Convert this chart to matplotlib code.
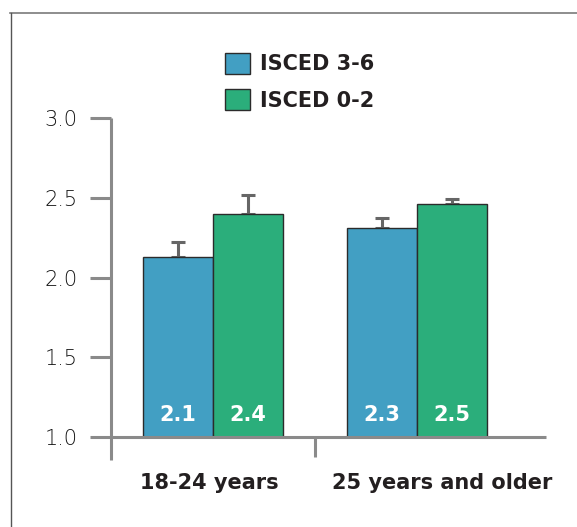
import matplotlib
matplotlib.use("Agg")
import matplotlib.pyplot as plt
from matplotlib.lines import Line2D
import numpy as np

categories = ["18-24 years", "25 years and older"]
series_names = ["ISCED 3-6", "ISCED 0-2"]
isced36 = [2.13, 2.31]
isced02 = [2.40, 2.46]
isced36_err_up = [0.09, 0.06]
isced02_err_up = [0.12, 0.03]
bar_labels_36 = ["2.1", "2.3"]
bar_labels_02 = ["2.4", "2.5"]
yticks = [1.0, 1.5, 2.0, 2.5, 3.0]
ytick_labels = ["1.0", "1.5", "2.0", "2.5", "3.0"]

BLUE = "#429fc3"
GREEN = "#2bae7b"
AXIS = "#8a8a8a"
TEXT = "#231f20"
BOLD_FONT = "DejaVu Sans"
LIGHT_FONT = "DejaVu Sans"

W, H = 577, 527
fig = plt.figure(figsize=(W / 100, H / 100), dpi=100)
fig.patch.set_facecolor("white")

x0, x1 = 111, 546
y_top, y_bot = 118, 437
ax = fig.add_axes([x0 / W, (H - y_bot) / H, (x1 - x0) / W, (y_bot - y_top) / H])

x = np.arange(len(categories))
w = 0.343
ax.set_xlim(-0.5, 1.632)
ax.set_ylim(1.0, 3.0)

b1 = ax.bar(x - w / 2, np.array(isced36) - 1.0, w, bottom=1.0, color=BLUE,
            edgecolor="#2b2b2b", linewidth=1.0, label=series_names[0], zorder=3)
b2 = ax.bar(x + w / 2, np.array(isced02) - 1.0, w, bottom=1.0, color=GREEN,
            edgecolor="#2b2b2b", linewidth=1.0, label=series_names[1], zorder=3)

ax.errorbar(x - w / 2, isced36, yerr=[np.zeros(2), isced36_err_up], fmt="none",
            ecolor="#666666", elinewidth=2.2, capsize=5, capthick=2.2, zorder=2)
ax.errorbar(x + w / 2, isced02, yerr=[np.zeros(2), isced02_err_up], fmt="none",
            ecolor="#666666", elinewidth=2.2, capsize=5, capthick=2.2, zorder=2)

for xi, lab in zip(x - w / 2, bar_labels_36):
    ax.annotate(lab, (xi, 1.0), xytext=(0, 15.5), textcoords="offset points",
                ha="center", va="center", color="white", fontsize=15,
                fontweight="bold", family=BOLD_FONT, zorder=5)
for xi, lab in zip(x + w / 2, bar_labels_02):
    ax.annotate(lab, (xi, 1.0), xytext=(0, 15.5), textcoords="offset points",
                ha="center", va="center", color="white", fontsize=15,
                fontweight="bold", family=BOLD_FONT, zorder=5)

for s in ax.spines.values():
    s.set_visible(False)

ax.set_yticks(yticks)
ax.set_yticklabels(ytick_labels, family=LIGHT_FONT, fontweight="light", fontsize=15, color="#151515")
ax.tick_params(axis="y", length=15, width=2.2, color=AXIS, pad=9)
ax.set_xticks([])

ax.plot([-0.5, -0.5], [0.856, 3.0], color=AXIS, lw=2.2, clip_on=False, zorder=1,
        solid_capstyle="butt")
ax.plot([-0.5, 1.632], [1.0, 1.0], color=AXIS, lw=2.2, clip_on=False, zorder=4,
        solid_capstyle="butt")
ax.plot([0.5, 0.5], [0.875, 1.0], color=AXIS, lw=2.2, clip_on=False, zorder=1,
        solid_capstyle="butt")

cat_offsets = [-0.017, 0.125]
for xi, c, off in zip(x, categories, cat_offsets):
    ax.text(xi + off, 1.0 - 46 / 159.5, c, ha="center", va="center",
            fontsize=15, fontweight="bold", family=BOLD_FONT, color=TEXT)

leg = fig.legend(handles=[b1, b2], labels=series_names, loc="upper left",
                 bbox_to_anchor=(225 / W, 1 - 53 / H), frameon=False,
                 prop={"family": BOLD_FONT, "weight": "bold", "size": 15},
                 handlelength=1.2, handleheight=1.15, handletextpad=0.48,
                 labelspacing=0.72, borderpad=0, borderaxespad=0)
for t in leg.get_texts():
    t.set_color(TEXT)

fig.add_artist(Line2D([10 / W, 1.0], [1 - 13 / H, 1 - 13 / H], color="#7a7a7a", lw=1.2,
                      transform=fig.transFigure))
fig.add_artist(Line2D([11 / W, 11 / W], [0, 1 - 13 / H], color="#555555", lw=1.0,
                      transform=fig.transFigure))

fig.savefig("out.png", dpi=100)
